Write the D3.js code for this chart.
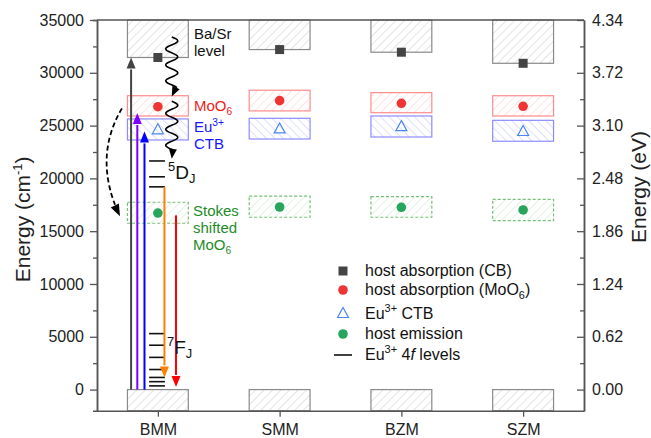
<!DOCTYPE html>
<html><head><meta charset="utf-8">
<script src="https://cdn.jsdelivr.net/npm/d3@7"></script>
<style>body{margin:0;background:#fff}svg{display:block}text{font-family:"Liberation Sans",Arial,Helvetica,sans-serif}</style>
</head><body><svg id="c" width="651" height="438"></svg>
<script>
// ---------- data ----------
const categories = ["BMM", "SMM", "BZM", "SZM"];
const cbLevel  = [31450, 32200, 31950, 30900];        // host absorption (CB)
const moLow    = [25910, 26390, 26220, 25910];
const moHigh   = [27830, 28350, 28120, 27830];
const moValue  = [26790, 27360, 27110, 26830];        // host absorption (MoO6)
const ctbLow   = [23640, 23730, 23920, 23520];
const ctbHigh  = [25630, 25690, 25910, 25500];
const ctbValue = [24650, 24730, 24950, 24490];        // Eu3+ CTB
const emLow    = [15750, 16320, 16320, 16000];
const emHigh   = [17740, 18330, 18270, 18020];
const emValue  = [16720, 17290, 17260, 17010];        // host emission
const groundTop = 0;
const levels5D = [21650, 20150, 19200];               // Eu3+ 5D_J
const levels7F = [5300, 4200, 3050, 1900, 1150, 750, 350]; // Eu3+ 7F_J
const cmTicks = [0, 5000, 10000, 15000, 20000, 25000, 30000, 35000];
const cmMinorTicks = [2500, 7500, 12500, 17500, 22500, 27500, 32500];
const eVTickLabels = ["0.00", "0.62", "1.24", "1.86", "2.48", "3.10", "3.72", "4.34"];
const upArrowTo = [31450, 26200, 24450];   // excitation (CB, MoO6, CTB)
const downArrowFrom = [19200, 16500];      // emission arrows
const downArrowTo = [1150, 250];
const waveFrom = [33400, 27300];
const waveTo = [27750, 21850];

// ---------- layout ----------
const W = 651, H = 438;
const svg = d3.select("#c");
const x = d3.scaleLinear().domain([0.5, 4.5]).range([97, 584]);
const y = d3.scaleLinear().domain([-2000, 35000]).range([410.7, 20]);
const halfW = 0.25;
const axisColor = "#555";

// patterns
const defs = svg.append("defs");
function hatch(id, color, angle) {
  const p = defs.append("pattern").attr("id", id).attr("patternUnits", "userSpaceOnUse")
    .attr("width", 6).attr("height", 6).attr("patternTransform", `rotate(${angle})`);
  p.append("line").attr("x1", 0).attr("y1", 0).attr("x2", 0).attr("y2", 6)
    .attr("stroke", color).attr("stroke-width", 0.9);
}
hatch("hg", "#c4c4c4", 45);
hatch("hr", "#ffc0c0", 45);
hatch("hb", "#b8b8ff", -45);
hatch("hgr", "#bfe3bf", 45);

const boxes = svg.append("g");
function box(i, lo, hi, fill, stroke, dash) {
  const x0 = x(i + 1 - halfW), x1 = x(i + 1 + halfW);
  boxes.append("rect").attr("x", x0).attr("y", y(hi)).attr("width", x1 - x0).attr("height", y(lo) - y(hi))
    .attr("fill", fill).attr("stroke", stroke).attr("stroke-width", 1.2)
    .attr("stroke-dasharray", dash || null);
}
categories.forEach((c, i) => {
  box(i, -2000, groundTop, "url(#hg)", "#8a8a8a");
  box(i, cbLevel[i], 35000, "url(#hg)", "#8a8a8a");
  box(i, moLow[i], moHigh[i], "url(#hr)", "#ff8c8c");
  box(i, ctbLow[i], ctbHigh[i], "url(#hb)", "#8c8cff");
  box(i, emLow[i], emHigh[i], "url(#hgr)", "#77c077", "3,2");
});

// axes
const gL = svg.append("g").attr("transform", `translate(${x(0.5)},0)`);
gL.call(d3.axisLeft(y).tickValues(cmTicks).tickSize(7).tickSizeOuter(0).tickPadding(6).tickFormat(d3.format("d")));
gL.append("g").call(d3.axisLeft(y).tickValues(cmMinorTicks).tickSize(4).tickFormat(""));
const gR = svg.append("g").attr("transform", `translate(${x(4.5)},0)`);
gR.call(d3.axisRight(y).tickValues(cmTicks).tickSizeInner(-7).tickSizeOuter(0).tickPadding(8)
  .tickFormat((d, i) => eVTickLabels[i]));
gR.append("g").call(d3.axisRight(y).tickValues(cmMinorTicks).tickSizeInner(-4).tickSizeOuter(0).tickFormat(""));
const gB = svg.append("g").attr("transform", `translate(0,${y(-2000)})`);
gB.call(d3.axisBottom(x).tickValues([1, 2, 3, 4]).tickSize(6).tickSizeOuter(0).tickPadding(7)
  .tickFormat((d, i) => categories[i]));
svg.append("line").attr("x1", x(0.5)).attr("x2", x(4.5)).attr("y1", y(35000)).attr("y2", y(35000))
  .attr("stroke", axisColor).attr("stroke-width", 1.5);
svg.selectAll(".domain").attr("stroke", axisColor).attr("stroke-width", 1.5);
svg.selectAll(".tick line").attr("stroke", axisColor).attr("stroke-width", 1.3);
svg.selectAll(".tick text").attr("font-size", 16).attr("fill", "#222")
  .attr("font-family", '"Liberation Sans",Arial,sans-serif');

// axis titles
svg.append("text").attr("transform", `translate(30,${(y(35000) + y(-2000)) / 2 + 4}) rotate(-90)`)
  .attr("text-anchor", "middle").attr("font-size", 21).attr("fill", "#222")
  .call(t => { t.append("tspan").text("Energy (cm"); t.append("tspan").attr("font-size", 13).attr("dy", -8).text("-1");
               t.append("tspan").attr("dy", 8).text(")"); });
svg.append("text").attr("transform", `translate(646,${187}) rotate(-90)`)
  .attr("text-anchor", "middle").attr("font-size", 21).attr("fill", "#222").text("Energy (eV)");

// arrows helper
function arrowHead(g, x1, y1, x2, y2, color, len, wid) {
  const a = Math.atan2(y2 - y1, x2 - x1);
  const bx = x2 - len * Math.cos(a), by = y2 - len * Math.sin(a);
  const px = -Math.sin(a) * wid / 2, py = Math.cos(a) * wid / 2;
  g.append("path").attr("d", `M${x2},${y2}L${bx + px},${by + py}L${bx - px},${by - py}Z`).attr("fill", color);
  return [bx, by];
}
const ann = svg.append("g");
function arrow(xv, from, to, color) {
  const xp = x(xv), y1 = y(from), y2 = y(to);
  const dir = y2 < y1 ? 1 : -1;
  const [bx, by] = arrowHead(ann, xp, y1, xp, y2, color, 11, 9);
  ann.append("line").attr("x1", xp).attr("x2", xp).attr("y1", y1).attr("y2", by + dir * 1)
    .attr("stroke", color).attr("stroke-width", 2);
}

// Eu levels (BMM)
const lvX0 = 0.928, lvX1 = 1.058;
levels5D.concat(levels7F).forEach(v => {
  ann.append("line").attr("x1", x(lvX0)).attr("x2", x(lvX1)).attr("y1", y(v)).attr("y2", y(v))
    .attr("stroke", "#111").attr("stroke-width", 1.6);
});

const upX = [0.78, 0.831, 0.89];
const upColors = ["#444", "#8000ff", "#0000ff"];
upArrowTo.forEach((v, i) => arrow(upX[i], 0, v, upColors[i]));
const downX = [1.054, 1.149];
const downColors = ["#ff8000", "#ff0000"];
downArrowFrom.forEach((v, i) => arrow(downX[i], v, downArrowTo[i], downColors[i]));

// wavy relaxation lines
const waveX = x(1.114);
waveFrom.forEach((f, i) => {
  const y0 = y(f), yEnd = y(waveTo[i]) - 9;
  const pts = d3.range(0, 1.0001, 0.01).map(t => {
    const yy = y0 + t * (yEnd - y0);
    return [waveX + 6 * Math.sin(2 * Math.PI * (yy - y0) / 16), yy];
  });
  ann.append("path").attr("d", d3.line()(pts)).attr("fill", "none").attr("stroke", "#000").attr("stroke-width", 1.6);
  arrowHead(ann, pts[pts.length - 1][0], yEnd - 2, waveX, y(waveTo[i]), "#000", 10, 8);
});

// dashed Stokes curve
const cs = [x(0.705), y(26630)], cc = [x(0.461), y(21900)], ce = [x(0.689), y(16410)];
const tEnd = 0.9;
const q = t => [(1 - t) * (1 - t) * cs[0] + 2 * (1 - t) * t * cc[0] + t * t * ce[0],
                (1 - t) * (1 - t) * cs[1] + 2 * (1 - t) * t * cc[1] + t * t * ce[1]];
const cpts = d3.range(0, tEnd + 0.0001, 0.02).map(q);
ann.append("path").attr("d", d3.line()(cpts)).attr("fill", "none").attr("stroke", "#000")
  .attr("stroke-width", 1.8).attr("stroke-dasharray", "5,3");
arrowHead(ann, cc[0], cc[1], ce[0], ce[1], "#000", 12, 9);

// markers
const mk = svg.append("g");
categories.forEach((c, i) => {
  const cx = x(i + 1);
  mk.append("rect").attr("x", cx - 4.5).attr("y", y(cbLevel[i]) - 4.5).attr("width", 9).attr("height", 9).attr("fill", "#444");
  mk.append("circle").attr("cx", cx).attr("cy", y(moValue[i])).attr("r", 4.8).attr("fill", "#ef3434");
  const ty = y(ctbValue[i]);
  mk.append("path").attr("d", `M${cx},${ty - 5.5}L${cx + 5.5},${ty + 4.5}L${cx - 5.5},${ty + 4.5}Z`)
    .attr("fill", "#fff").attr("fill-opacity", 0).attr("stroke", "#4a86f0").attr("stroke-width", 1.2);
  mk.append("circle").attr("cx", cx).attr("cy", y(emValue[i])).attr("r", 4.8).attr("fill", "#27a55d");
});

// annotation texts
function label(xp, yp, parts, color, size) {
  const t = svg.append("text").attr("x", xp).attr("y", yp).attr("fill", color).attr("font-size", size);
  parts.forEach(p => {
    const s = t.append("tspan").text(p.t);
    if (p.sup) s.attr("font-size", size * 0.68).attr("dy", -size * 0.42);
    if (p.sub) s.attr("font-size", size * 0.68).attr("dy", size * 0.25);
    if (p.back) s.attr("dy", p.back);
  });
}
label(194, 39, [{t: "Ba/Sr"}], "#111", 15);
label(194, 56, [{t: "level"}], "#111", 15);
label(194, 111, [{t: "MoO"}, {t: "6", sub: true}], "#ee1c1c", 15);
label(194, 132, [{t: "Eu"}, {t: "3+", sup: true}], "#1515ff", 15);
label(194, 149, [{t: "CTB"}], "#1515ff", 15);
label(193, 216, [{t: "Stokes"}], "#1e8c28", 15);
label(193, 233, [{t: "shifted"}], "#1e8c28", 15);
label(193, 250, [{t: "MoO"}, {t: "6", sub: true}], "#1e8c28", 15);
label(168, 179, [{t: "5", sup: true}, {t: "D", back: 7.5}, {t: "J", sub: true}], "#111", 19);
label(167, 354, [{t: "7", sup: true}, {t: "F", back: 7.5}, {t: "J", sub: true}], "#111", 19);

// legend
const lg = svg.append("g");
const lx = 343, tx = 365;
lg.append("rect").attr("x", lx - 4.5).attr("y", 271 - 4.5).attr("width", 9).attr("height", 9).attr("fill", "#444");
lg.append("circle").attr("cx", lx).attr("cy", 290).attr("r", 4.8).attr("fill", "#ef3434");
lg.append("path").attr("d", `M${lx},${313 - 5.5}L${lx + 5.5},${313 + 4.5}L${lx - 5.5},${313 + 4.5}Z`)
  .attr("fill", "none").attr("stroke", "#4a86f0").attr("stroke-width", 1.2);
lg.append("circle").attr("cx", lx).attr("cy", 334).attr("r", 4.8).attr("fill", "#27a55d");
lg.append("line").attr("x1", 334).attr("x2", 352).attr("y1", 355).attr("y2", 355).attr("stroke", "#111").attr("stroke-width", 1.6);
label(tx, 276, [{t: "host absorption (CB)"}], "#111", 16);
label(tx, 295, [{t: "host absorption (MoO"}, {t: "6", sub: true}, {t: ")", back: -4}], "#111", 16);
label(tx, 319, [{t: "Eu"}, {t: "3+", sup: true}, {t: " CTB", back: 6.7}], "#111", 16);
label(tx, 339, [{t: "host emission"}], "#111", 16);
(function () {
  const t = svg.append("text").attr("x", tx).attr("y", 360).attr("fill", "#111").attr("font-size", 16);
  t.append("tspan").text("Eu");
  t.append("tspan").attr("font-size", 11).attr("dy", -6.7).text("3+");
  t.append("tspan").attr("dy", 6.7).text(" 4");
  t.append("tspan").attr("font-style", "italic").text("f");
  t.append("tspan").text(" levels");
})();
</script></body></html>
